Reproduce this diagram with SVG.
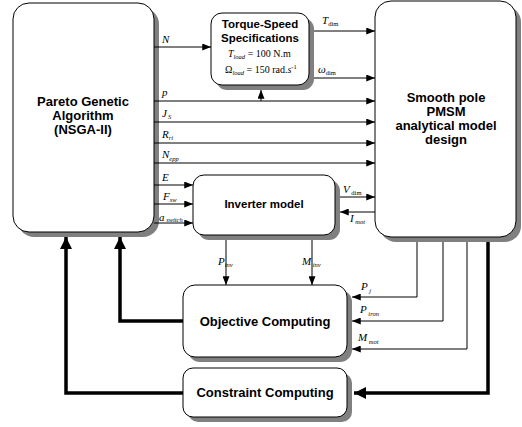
<svg xmlns="http://www.w3.org/2000/svg" width="522" height="427" viewBox="0 0 522 427">
<defs>
<marker id="a" viewBox="0 0 10 8" refX="10" refY="4" markerWidth="9" markerHeight="7" markerUnits="userSpaceOnUse" orient="auto"><path d="M0,0 L10,4 L0,8 Z" fill="#000"/></marker>
<marker id="b" viewBox="0 0 10 10" refX="10" refY="5" markerWidth="12" markerHeight="12" markerUnits="userSpaceOnUse" orient="auto"><path d="M0,0 L10,5 L0,10 Z" fill="#000"/></marker>
</defs>
<style>
.box{fill:#fff;stroke:#000;stroke-width:1}
.sh{fill:#808080}
.t{font-family:"Liberation Sans",Arial,sans-serif;font-weight:bold;text-anchor:middle;fill:#000}
.l{font-family:"Liberation Serif","Times New Roman",serif;font-style:italic;font-size:11px;fill:#000}
.s{font-size:6.5px}
.f{font-family:"Liberation Serif","Times New Roman",serif;font-size:10px;fill:#000}
.c{fill:none;stroke:#000;stroke-width:1}
.k{fill:none;stroke:#000;stroke-width:3.5}
</style>
<rect width="522" height="427" fill="#fff"/>
<g id="pareto">
<rect class="sh" x="18" y="8" width="141" height="229" rx="16"/>
<rect class="box" x="13" y="3" width="141" height="229" rx="16"/>
<text class="t" font-size="13" x="83" y="106">Pareto Genetic</text>
<text class="t" font-size="13" x="83" y="120">Algorithm</text>
<text class="t" font-size="13" x="83" y="134">(NSGA-II)</text>
</g>
<g id="torque">
<rect class="sh" x="216" y="18" width="98" height="72" rx="11"/>
<rect class="box" x="211" y="13" width="98" height="72" rx="11"/>
<text class="t" font-size="11.5" x="260" y="28">Torque-Speed</text>
<text class="t" font-size="11.5" x="260" y="42">Specifications</text>
<text class="f" x="228" y="57"><tspan font-style="italic">T</tspan><tspan class="s" font-style="italic" dy="2">load</tspan><tspan dy="-2"> = 100 N.m</tspan></text>
<text class="f" x="225" y="73"><tspan>Ω</tspan><tspan class="s" font-style="italic" dy="2">load</tspan><tspan dy="-2"> = 150 rad.</tspan><tspan font-style="italic">s</tspan><tspan class="s" dy="-4">-1</tspan></text>
</g>
<g id="pmsm">
<rect class="sh" x="380" y="6" width="141" height="236" rx="16"/>
<rect class="box" x="375" y="1" width="141" height="236" rx="16"/>
<text class="t" font-size="13" x="446" y="102">Smooth pole</text>
<text class="t" font-size="13" x="446" y="116">PMSM</text>
<text class="t" font-size="13" x="446" y="130">analytical model</text>
<text class="t" font-size="13" x="446" y="144">design</text>
</g>
<g id="inverter">
<rect class="sh" x="198" y="180" width="142" height="60" rx="11"/>
<rect class="box" x="193" y="175" width="142" height="60" rx="11"/>
<text class="t" font-size="11.5" x="264" y="208">Inverter model</text>
</g>
<g id="objective">
<rect class="sh" x="188" y="290" width="164" height="72" rx="12"/>
<rect class="box" x="183" y="285" width="164" height="72" rx="12"/>
<text class="t" font-size="13" x="265" y="326">Objective Computing</text>
</g>
<g id="constraint">
<rect class="sh" x="188" y="373" width="164" height="49" rx="10"/>
<rect class="box" x="183" y="368" width="164" height="49" rx="10"/>
<text class="t" font-size="13" x="265" y="397">Constraint Computing</text>
</g>
<g id="connectors">
<line class="c" x1="154" y1="47" x2="211" y2="47" marker-end="url(#a)"/>
<line class="c" x1="314" y1="31" x2="375" y2="31" marker-end="url(#a)"/>
<line class="c" x1="314" y1="78" x2="375" y2="78" marker-end="url(#a)"/>
<line class="c" x1="154" y1="101" x2="375" y2="101" marker-end="url(#a)"/>
<line class="c" x1="261" y1="101" x2="261" y2="90" marker-end="url(#a)"/>
<line class="c" x1="154" y1="122" x2="375" y2="122" marker-end="url(#a)"/>
<line class="c" x1="154" y1="143" x2="375" y2="143" marker-end="url(#a)"/>
<line class="c" x1="154" y1="163" x2="375" y2="163" marker-end="url(#a)"/>
<line class="c" x1="154" y1="185" x2="193" y2="185" marker-end="url(#a)"/>
<line class="c" x1="154" y1="204" x2="193" y2="204" marker-end="url(#a)"/>
<line class="c" x1="154" y1="223" x2="193" y2="223" marker-end="url(#a)"/>
<line class="c" x1="340" y1="197" x2="375" y2="197" marker-end="url(#a)"/>
<line class="c" x1="375" y1="212" x2="340" y2="212" marker-end="url(#a)"/>
<line class="c" x1="226" y1="240" x2="226" y2="285" marker-end="url(#a)"/>
<line class="c" x1="312" y1="240" x2="312" y2="285" marker-end="url(#a)"/>
<polyline class="c" points="417,242 417,297 352,297" marker-end="url(#a)"/>
<polyline class="c" points="443,242 443,321 352,321" marker-end="url(#a)"/>
<polyline class="c" points="467,242 467,349 352,349" marker-end="url(#a)"/>
<polyline class="k" points="488,242 488,393 354,393" marker-end="url(#b)"/>
<polyline class="k" points="183,321 120,321 120,237" marker-end="url(#b)"/>
<polyline class="k" points="183,393 66,393 66,237" marker-end="url(#b)"/>
</g>
<g id="labels">
<text class="l" x="162" y="43">N</text>
<text class="l" x="322" y="24">T<tspan class="s" font-style="normal" dy="2">dim</tspan></text>
<text class="l" x="318" y="73">ω<tspan class="s" font-style="normal" dy="2">dim</tspan></text>
<text class="l" x="162" y="96">p</text>
<text class="l" x="162" y="117">J<tspan class="s" dx="1" dy="2">S</tspan></text>
<text class="l" x="162" y="138">R<tspan class="s" dy="2">ri</tspan></text>
<text class="l" x="162" y="158">N<tspan class="s" dy="3">epp</tspan></text>
<text class="l" x="162" y="181">E</text>
<text class="l" x="163" y="200">F<tspan class="s" dy="2">sw</tspan></text>
<text class="l" x="159" y="221">a<tspan class="s" dy="1"> switch</tspan></text>
<text class="l" x="343" y="193">V<tspan class="s" font-style="normal" dy="2"> dim</tspan></text>
<text class="l" x="350" y="222">I<tspan class="s" dy="2"> mot</tspan></text>
<text class="l" x="218" y="265">P<tspan class="s" dy="2">inv</tspan></text>
<text class="l" x="302" y="265">M<tspan class="s" dy="2"> inv</tspan></text>
<text class="l" x="361" y="290">P<tspan class="s" dy="3"> j</tspan></text>
<text class="l" x="360" y="313">P<tspan class="s" dy="3"> iron</tspan></text>
<text class="l" x="358" y="341">M<tspan class="s" dy="3"> mot</tspan></text>
</g>
</svg>
